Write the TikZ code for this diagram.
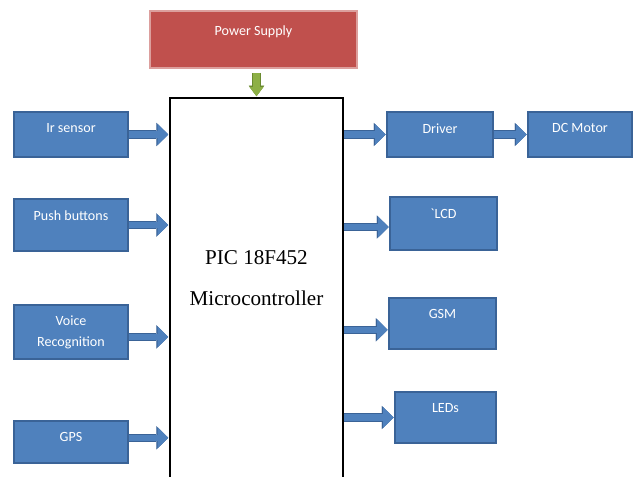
\documentclass[tikz,border=0pt]{standalone}
\usepackage{fontspec}
\setmainfont{Liberation Serif}
\newfontfamily\calibri{Carlito}
\usetikzlibrary{arrows.meta}
\definecolor{fillB}{HTML}{4F81BD}
\definecolor{lineB}{HTML}{3A6397}
\definecolor{arrB}{HTML}{4F81BD}
\definecolor{fillR}{HTML}{C0504D}
\definecolor{arrG}{HTML}{8DB045}
\definecolor{lineG}{HTML}{6A8A30}

\begin{document}
\begin{tikzpicture}[x=0.025cm, y=-0.025cm,
  blk/.style={rectangle, draw=lineB, fill=fillB, line width=0.8pt, inner sep=0pt},
  lbl/.style={anchor=center, yshift=-12pt, text=white, font=\calibri\fontsize{10}{12}\selectfont},
  toptext/.style={label={[lbl]north:#1}},
  barrow/.style={draw=arrB, line width=4.4pt, shorten >=0.6pt,
    -{Triangle[length=7.4pt, width=14.6pt, line width=0.1pt]},
    preaction={draw=lineB, line width=6pt, -{Triangle[length=8.4pt, width=16.6pt, line width=0.1pt]}}}]
\clip (0,0) rectangle (634,476);
% power supply and controller
\node[rectangle, draw=fillR!55!white, fill=fillR, line width=0.8pt, minimum width=5.175cm, minimum height=1.425cm,
  label={[lbl, yshift=-3pt]north:Power Supply}] (pwr) at (253.5,39.5) {};
\node[rectangle, draw=black, line width=1.4pt, minimum width=4.325cm, minimum height=9.55cm,
  label={[font=\fontsize{15}{29}\selectfont, align=center, yshift=7.5pt]center:{PIC 18F452\\Microcontroller}}] (mc) at (256.5,289) {};
\draw[draw=arrG, line width=4.6pt, shorten <=3.5pt, shorten >=0.6pt,
  -{Triangle[length=6.4pt, width=9.6pt, line width=0.1pt]},
  preaction={draw=lineG, line width=6pt, shorten <=3pt, -{Triangle[length=7.4pt, width=11pt, line width=0.1pt]}}]
  (mc.north |- pwr.south) -- (mc.north);
% inputs
\node[blk, toptext=Ir sensor, minimum width=2.85cm, minimum height=1.125cm] (ir) at (71,134.5) {};
\node[blk, toptext=Push buttons, minimum width=2.85cm, minimum height=1.3cm] (push) at (71,225) {};
\node[blk, text=white, font=\calibri\fontsize{10}{15}\selectfont, align=center,
  minimum width=2.85cm, minimum height=1.35cm] (voice) at (71,332) {Voice\\Recognition};
\node[blk, toptext=GPS, minimum width=2.85cm, minimum height=1.05cm] (gps) at (71,442) {};
% outputs
\node[blk, toptext=Driver, minimum width=2.65cm, minimum height=1.125cm] (drv) at (440,134.5) {};
\node[blk, toptext=DC Motor, minimum width=2.6cm, minimum height=1.125cm] (motor) at (580,134.5) {};
\node[blk, toptext=`LCD, minimum width=2.675cm, minimum height=1.325cm] (lcd) at (443.5,223.5) {};
\node[blk, toptext=GSM, minimum width=2.675cm, minimum height=1.275cm] (gsm) at (442.5,323.5) {};
\node[blk, toptext=LEDs, minimum width=2.525cm, minimum height=1.275cm] (leds) at (445.5,417.5) {};
% arrows
\draw[barrow] (ir.east) -- (ir.east -| mc.west);
\draw[barrow] (push.east) -- (push.east -| mc.west);
\draw[barrow] ([yshift=-3.5pt]voice.east) -- ([yshift=-3.5pt]voice.east -| mc.west);
\draw[barrow] ([yshift=3pt]gps.east) -- ([yshift=3pt]gps.east -| mc.west);
\draw[barrow] (drv.west -| mc.east) -- (drv.west);
\draw[barrow] (drv.east) -- (motor.west);
\draw[barrow] ([yshift=-2.5pt]lcd.west -| mc.east) -- ([yshift=-2.5pt]lcd.west);
\draw[barrow] ([yshift=-4.5pt]gsm.west -| mc.east) -- ([yshift=-4.5pt]gsm.west);
\draw[barrow] (leds.west -| mc.east) -- (leds.west);
\end{tikzpicture}
\end{document}
